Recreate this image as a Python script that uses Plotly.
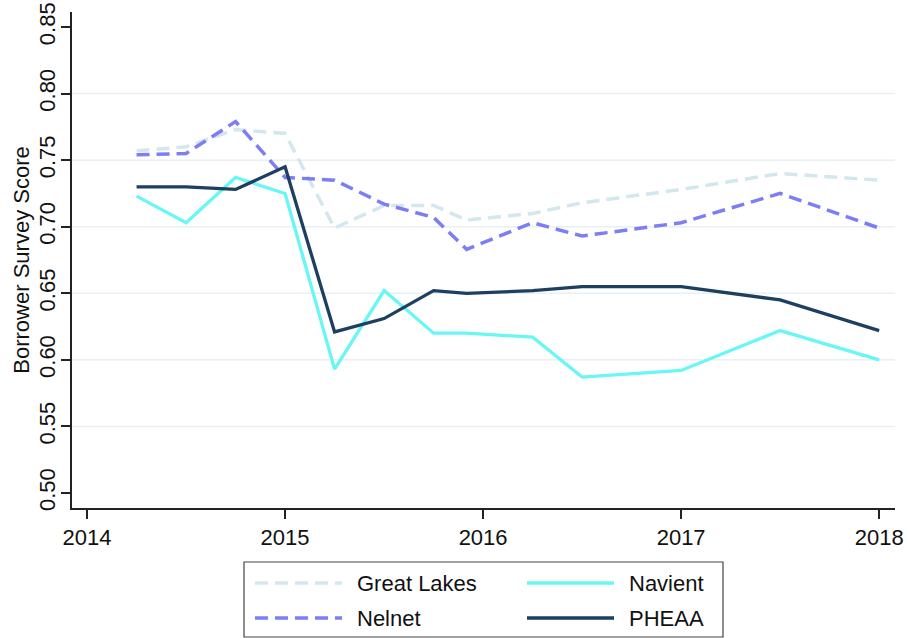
import plotly.graph_objects as go

# ---- data ----
dates = [2014.25, 2014.5, 2014.75, 2015.0, 2015.25, 2015.5, 2015.75, 2015.917,
         2016.25, 2016.5, 2017.0, 2017.5, 2018.0]
great_lakes = [0.757, 0.760, 0.773, 0.770, 0.699, 0.716, 0.716, 0.705,
               0.710, 0.718, 0.728, 0.740, 0.735]
nelnet = [0.754, 0.755, 0.779, 0.737, 0.735, 0.717, 0.707, 0.683,
          0.703, 0.693, 0.703, 0.725, 0.699]
navient = [0.723, 0.703, 0.737, 0.725, 0.593, 0.652, 0.620, 0.620,
           0.617, 0.587, 0.592, 0.622, 0.600]
pheaa = [0.730, 0.730, 0.728, 0.745, 0.621, 0.631, 0.652, 0.650,
         0.652, 0.655, 0.655, 0.645, 0.622]
series_names = ["Great Lakes", "Nelnet", "Navient", "PHEAA"]
y_ticks = [0.50, 0.55, 0.60, 0.65, 0.70, 0.75, 0.80, 0.85]
y_tick_text = ["0.50", "0.55", "0.60", "0.65", "0.70", "0.75", "0.80", "0.85"]
grid_vals = [0.55, 0.60, 0.65, 0.70, 0.75, 0.80]
x_ticks = [2014, 2015, 2016, 2017, 2018]

# ---- styles ----
styles = {
    "Great Lakes": dict(color="#d3e7ee", width=3.5, dash="13px,7px"),
    "Nelnet": dict(color="#7d7df6", width=3.5, dash="13px,7px"),
    "Navient": dict(color="#6af6f6", width=3.3, dash="solid"),
    "PHEAA": dict(color="#1d3f60", width=3.3, dash="solid"),
}
values = {"Great Lakes": great_lakes, "Nelnet": nelnet, "Navient": navient, "PHEAA": pheaa}

FONT = "Liberation Sans, Arial, Helvetica, sans-serif"
FS = 22
W, H = 909, 638
ML, MR, MT, MB = 72, 14, 12, 130
PW, PH = W - ML - MR, H - MT - MB

def px(x):
    return (x - ML) / PW

def py(y):
    return (H - MB - y) / PH

fig = go.Figure()
for name in series_names:
    fig.add_trace(go.Scatter(x=dates, y=values[name], mode="lines", name=name,
                             line=styles[name], showlegend=False))

shapes = []
for g in grid_vals:
    shapes.append(dict(type="line", xref="paper", yref="y", x0=0, x1=1, y0=g, y1=g,
                       line=dict(color="#e7f0f3", width=1.5), layer="below"))

# manual legend (two columns)
shapes.append(dict(type="rect", xref="paper", yref="paper",
                   x0=px(244), x1=px(723), y0=py(562), y1=py(637),
                   line=dict(color="#444444", width=1.2), fillcolor="white"))
legend_layout = [("Great Lakes", 255, 583), ("Navient", 527, 583),
                 ("Nelnet", 255, 618), ("PHEAA", 527, 618)]
annotations = []
for name, lx, ly in legend_layout:
    st = styles[name]
    shapes.append(dict(type="line", xref="paper", yref="paper",
                       x0=px(lx), x1=px(lx + 87), y0=py(ly), y1=py(ly),
                       line=dict(color=st["color"], width=st["width"], dash=st["dash"])))
    annotations.append(dict(text=name, xref="paper", yref="paper", x=px(lx + 100), y=py(ly),
                            xanchor="left", yanchor="middle", showarrow=False,
                            font=dict(family=FONT, size=FS, color="#111111")))

fig.update_layout(
    width=W, height=H,
    margin=dict(l=ML, r=MR, t=MT, b=MB, autoexpand=False),
    paper_bgcolor="white", plot_bgcolor="white",
    font=dict(family=FONT, size=FS, color="#111111"),
    showlegend=False,
    shapes=shapes, annotations=annotations,
    xaxis=dict(range=[2013.924, 2018.08], tickvals=x_ticks, ticktext=[str(t) for t in x_ticks],
               showgrid=False, zeroline=False, showline=True, linecolor="#222222", linewidth=1.5,
               ticks="outside", ticklen=9, tickwidth=1.5, tickcolor="#222222",
               tickfont=dict(size=FS), automargin=False),
    yaxis=dict(range=[0.4887, 0.8613], tickvals=y_ticks, ticktext=y_tick_text,
               showgrid=False, zeroline=False, showline=True, linecolor="#222222", linewidth=1.5,
               ticks="outside", ticklen=9, tickwidth=1.5, tickcolor="#222222",
               tickangle=-90, tickfont=dict(size=FS), automargin=False,
               ticklabelstandoff=-3,
               title=dict(text="Borrower Survey Score", font=dict(size=FS), standoff=0)),
)

fig.write_html("out.html", config={"displayModeBar": False},
               post_script="document.body.style.margin='0px';document.body.style.overflow='hidden';")
